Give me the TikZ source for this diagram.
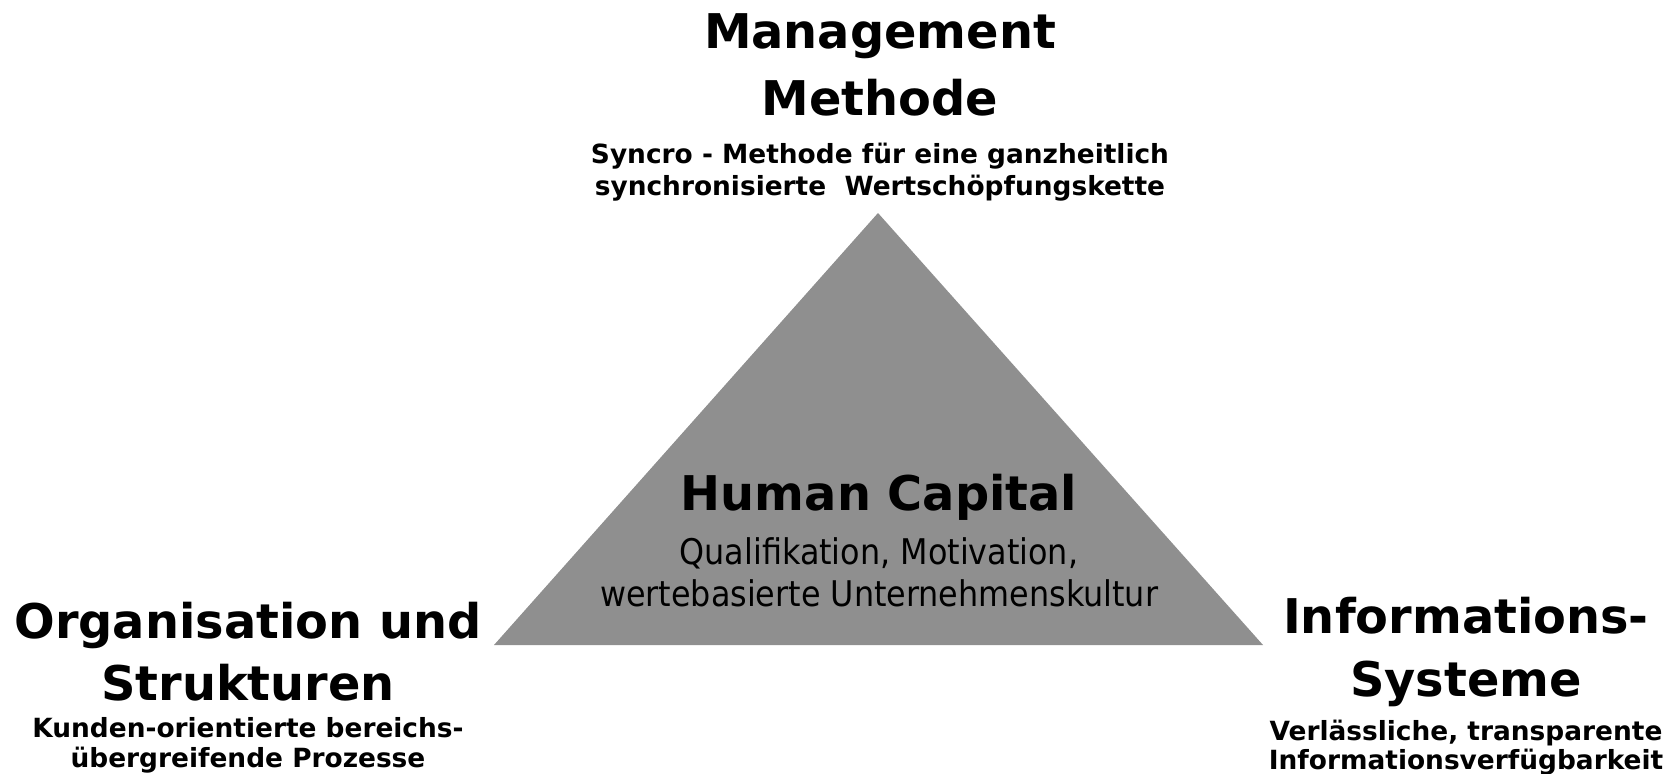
\documentclass[tikz,border=0pt]{standalone}
\usepackage{fontspec}
\setmainfont{DejaVu Sans}
\newfontfamily\condfont{DejaVu Sans Condensed}
\definecolor{pyramidgray}{RGB}{143,143,143}
\tikzset{
  headline/.style={font=\fontsize{48}{64}\selectfont\bfseries, align=center, inner sep=0pt},
  subline/.style={font=\fontsize{26.5}{31}\selectfont\bfseries, align=center, inner sep=0pt},
  coreline/.style={font=\fontsize{35.5}{42}\selectfont\condfont, align=center, inner sep=0pt}
}
\begin{document}
\begin{tikzpicture}[x=1bp,y=1bp]
  \useasboundingbox (0,0) rectangle (1674,-774);
  % the pyramid
  \coordinate (top) at (878,-213);
  \coordinate (left) at (494,-645);
  \coordinate (right) at (1263,-645);
  \fill [pyramidgray] (top) -- (left) -- (right) -- cycle;
  % top corner (base = last line)
  \node [headline, anchor=base, font=\fontsize{48}{67}\selectfont\bfseries] (mgmt) at (880,-115) {Management\\Methode};
  \node [subline, anchor=base, font=\fontsize{26.5}{32}\selectfont\bfseries] (mgmtsub) at (880,-195) {Syncro - Methode für eine ganzheitlich\\synchronisierte~ Wertschöpfungskette};
  % centre
  \node [headline, anchor=base] (human) at (879,-510) {Human Capital};
  \node [coreline, anchor=base] (humansub) at (879,-606) {Qualifikation, Motivation,\\wertebasierte Unternehmenskultur};
  % left corner
  \node [headline, anchor=base, font=\fontsize{48}{62}\selectfont\bfseries] (orga) at (248,-700) {Organisation und\\Strukturen};
  \node [subline, anchor=base, font=\fontsize{26.5}{30}\selectfont\bfseries] (orgasub) at (248,-767) {Kunden-orientierte bereichs-\\übergreifende Prozesse};
  % right corner
  \node [headline, anchor=base, font=\fontsize{48}{63}\selectfont\bfseries] (info) at (1466,-696) {Informations-\\Systeme};
  \node [subline, anchor=base, font=\fontsize{26.5}{29}\selectfont\bfseries] (infosub) at (1466,-769) {Verlässliche, transparente\\Informationsverfügbarkeit};
\end{tikzpicture}
\end{document}
